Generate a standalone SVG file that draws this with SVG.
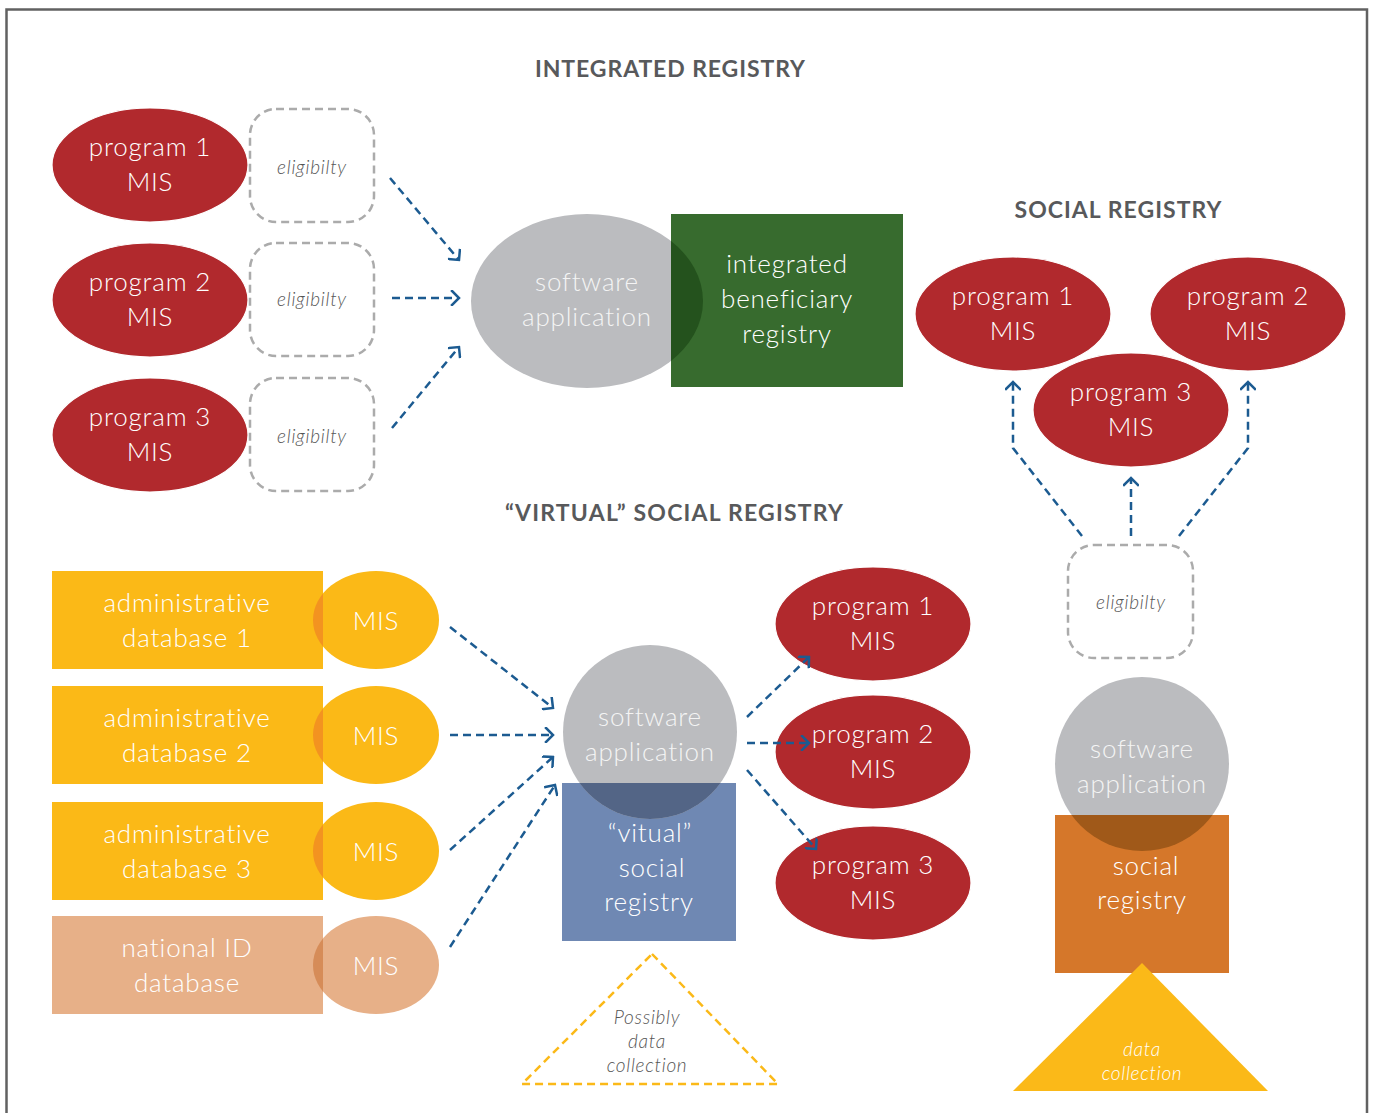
<svg xmlns="http://www.w3.org/2000/svg" width="1376" height="1113" viewBox="0 0 1376 1113">
  <style>
    .title { font-family: Lato, "Noto Sans", sans-serif; font-weight: 700; font-size: 23px; fill: #58595b; text-anchor: middle; }
    .lbl { font-family: Lato, "Noto Sans", sans-serif; font-weight: 300; font-size: 26px; letter-spacing: 0.8px; fill: #ffffff; text-anchor: middle; }
    .lbl-soft { font-family: Lato, "Noto Sans", sans-serif; font-weight: 300; font-size: 26px; letter-spacing: 0.8px; fill: #f4f4f4; text-anchor: middle; }
    .note { font-family: Lato, "Noto Sans", sans-serif; font-style: italic; font-weight: 300; font-size: 19px; letter-spacing: 0.7px; fill: #555555; text-anchor: middle; }
    .note-w { font-family: Lato, "Noto Sans", sans-serif; font-style: italic; font-weight: 300; font-size: 19px; letter-spacing: 0.7px; fill: #ffffff; text-anchor: middle; }
    .mis { fill: #b1292d; stroke: #ffffff; stroke-width: 1.2; }
    .app { fill: #bbbcbf; }
    .elig { fill: none; stroke: #ababab; stroke-width: 2.5; stroke-dasharray: 8 5; }
    .flow { fill: none; stroke: #1c5b91; stroke-width: 2.5; stroke-dasharray: 8 5; marker-end: url(#chev); }
    .admin { fill: #fbb917; }
    .admin-ov { fill: #f39320; }
    .natid { fill: #e7b088; }
    .natid-ov { fill: #d68c58; }
  </style>
  <defs>
    <marker id="chev" viewBox="0 0 12 16" refX="10" refY="8" markerWidth="12" markerHeight="16" markerUnits="userSpaceOnUse" orient="auto">
      <path d="M3,1 L10,8 L3,15" fill="none" stroke="#1c5b91" stroke-width="2.5" stroke-linecap="square"/>
    </marker>
    <clipPath id="clip-ibr"><rect x="671" y="214" width="232" height="173"/></clipPath>
    <clipPath id="clip-vsr"><rect x="562" y="783" width="174" height="158"/></clipPath>
    <clipPath id="clip-sr"><rect x="1055" y="815" width="174" height="158"/></clipPath>
    <clipPath id="clip-ad1"><rect x="52" y="571" width="271" height="98"/></clipPath>
    <clipPath id="clip-ad2"><rect x="52" y="686" width="271" height="98"/></clipPath>
    <clipPath id="clip-ad3"><rect x="52" y="802" width="271" height="98"/></clipPath>
    <clipPath id="clip-nid"><rect x="52" y="916" width="271" height="98"/></clipPath>
  </defs>

  <!-- outer frame (open at the bottom) -->
  <path d="M6.5,1113 V9.5 H1367 V1113" fill="none" stroke="#616161" stroke-width="2.5"/>

  <!-- section titles -->
  <text class="title" x="670" y="77" textLength="270" lengthAdjust="spacing">INTEGRATED REGISTRY</text>
  <text class="title" x="1118" y="218" textLength="207" lengthAdjust="spacing">SOCIAL REGISTRY</text>
  <text class="title" x="674" y="521" textLength="338" lengthAdjust="spacing">“VIRTUAL” SOCIAL REGISTRY</text>

  <!-- ===== integrated registry ===== -->
  <g id="ir-program1">
    <ellipse class="mis" cx="150" cy="165" rx="98" ry="57"/>
    <text class="lbl" x="150" y="156">program 1</text>
    <text class="lbl" x="150" y="191">MIS</text>
  </g>
  <g id="ir-program2">
    <ellipse class="mis" cx="150" cy="300" rx="98" ry="57"/>
    <text class="lbl" x="150" y="291">program 2</text>
    <text class="lbl" x="150" y="326">MIS</text>
  </g>
  <g id="ir-program3">
    <ellipse class="mis" cx="150" cy="435" rx="98" ry="57"/>
    <text class="lbl" x="150" y="426">program 3</text>
    <text class="lbl" x="150" y="461">MIS</text>
  </g>
  <g id="ir-elig1">
    <rect class="elig" x="250" y="109" width="124" height="113" rx="26"/>
    <text class="note" x="312" y="174">eligibilty</text>
  </g>
  <g id="ir-elig2">
    <rect class="elig" x="250" y="243" width="124" height="113" rx="26"/>
    <text class="note" x="312" y="306">eligibilty</text>
  </g>
  <g id="ir-elig3">
    <rect class="elig" x="250" y="378" width="124" height="113" rx="26"/>
    <text class="note" x="312" y="443">eligibilty</text>
  </g>
  <g id="ir-software">
    <ellipse class="app" cx="587" cy="301" rx="116" ry="87"/>
    <text class="lbl-soft" x="587" y="291">software</text>
    <text class="lbl-soft" x="587" y="326">application</text>
  </g>
  <g id="ir-beneficiary-registry">
    <rect x="671" y="214" width="232" height="173" fill="#376b2e"/>
    <ellipse cx="587" cy="301" rx="116" ry="87" fill="#24521d" clip-path="url(#clip-ibr)"/>
    <text class="lbl" x="787" y="273">integrated</text>
    <text class="lbl" x="787" y="308">beneficiary</text>
    <text class="lbl" x="787" y="343">registry</text>
  </g>

  <!-- ===== social registry ===== -->
  <g id="sr-program1">
    <ellipse class="mis" cx="1013" cy="314" rx="98" ry="57"/>
    <text class="lbl" x="1013" y="305">program 1</text>
    <text class="lbl" x="1013" y="340">MIS</text>
  </g>
  <g id="sr-program2">
    <ellipse class="mis" cx="1248" cy="314" rx="98" ry="57"/>
    <text class="lbl" x="1248" y="305">program 2</text>
    <text class="lbl" x="1248" y="340">MIS</text>
  </g>
  <g id="sr-program3">
    <ellipse class="mis" cx="1131" cy="410" rx="98" ry="57"/>
    <text class="lbl" x="1131" y="401">program 3</text>
    <text class="lbl" x="1131" y="436">MIS</text>
  </g>
  <g id="sr-elig">
    <rect class="elig" x="1068" y="545" width="125" height="113" rx="26"/>
    <text class="note" x="1131" y="609">eligibilty</text>
  </g>
  <g id="sr-software">
    <circle class="app" cx="1142" cy="764" r="87"/>
    <text class="lbl-soft" x="1142" y="758">software</text>
    <text class="lbl-soft" x="1142" y="793">application</text>
  </g>
  <g id="sr-social-registry">
    <rect x="1055" y="815" width="174" height="158" fill="#d5772a"/>
    <circle cx="1142" cy="764" r="87" fill="#a05919" clip-path="url(#clip-sr)"/>
    <text class="lbl" x="1146" y="875">social</text>
    <text class="lbl" x="1142" y="909">registry</text>
  </g>
  <g id="sr-data-collection">
    <polygon points="1142,963 1268,1091 1013,1091" fill="#fbb918"/>
    <text class="note-w" x="1142" y="1056">data</text>
    <text class="note-w" x="1142" y="1080">collection</text>
  </g>

  <!-- ===== virtual social registry ===== -->
  <g id="vr-admin1">
    <rect class="admin" x="52" y="571" width="271" height="98"/>
    <ellipse class="admin" cx="376" cy="620" rx="63" ry="49"/>
    <ellipse class="admin-ov" cx="376" cy="620" rx="63" ry="49" clip-path="url(#clip-ad1)"/>
    <text class="lbl" x="187" y="612">administrative</text>
    <text class="lbl" x="187" y="647">database 1</text>
    <text class="lbl" x="376" y="630">MIS</text>
  </g>
  <g id="vr-admin2">
    <rect class="admin" x="52" y="686" width="271" height="98"/>
    <ellipse class="admin" cx="376" cy="735" rx="63" ry="49"/>
    <ellipse class="admin-ov" cx="376" cy="735" rx="63" ry="49" clip-path="url(#clip-ad2)"/>
    <text class="lbl" x="187" y="727">administrative</text>
    <text class="lbl" x="187" y="762">database 2</text>
    <text class="lbl" x="376" y="745">MIS</text>
  </g>
  <g id="vr-admin3">
    <rect class="admin" x="52" y="802" width="271" height="98"/>
    <ellipse class="admin" cx="376" cy="851" rx="63" ry="49"/>
    <ellipse class="admin-ov" cx="376" cy="851" rx="63" ry="49" clip-path="url(#clip-ad3)"/>
    <text class="lbl" x="187" y="843">administrative</text>
    <text class="lbl" x="187" y="878">database 3</text>
    <text class="lbl" x="376" y="861">MIS</text>
  </g>
  <g id="vr-national-id">
    <rect class="natid" x="52" y="916" width="271" height="98"/>
    <ellipse class="natid" cx="376" cy="965" rx="63" ry="49"/>
    <ellipse class="natid-ov" cx="376" cy="965" rx="63" ry="49" clip-path="url(#clip-nid)"/>
    <text class="lbl" x="187" y="957">national ID</text>
    <text class="lbl" x="187" y="992">database</text>
    <text class="lbl" x="376" y="975">MIS</text>
  </g>
  <g id="vr-virtual-registry">
    <rect x="562" y="783" width="174" height="158" fill="#6f88b3"/>
  </g>
  <g id="vr-software">
    <circle class="app" cx="650" cy="732" r="87"/>
    <circle cx="650" cy="732" r="87" fill="#536586" clip-path="url(#clip-vsr)"/>
    <text class="lbl-soft" x="650" y="726">software</text>
    <text class="lbl-soft" x="650" y="761">application</text>
    <text class="lbl" x="650" y="842">“vitual”</text>
    <text class="lbl" x="652" y="877">social</text>
    <text class="lbl" x="649" y="911">registry</text>
  </g>
  <g id="vr-program1">
    <ellipse class="mis" cx="873" cy="624" rx="98" ry="57"/>
    <text class="lbl" x="873" y="615">program 1</text>
    <text class="lbl" x="873" y="650">MIS</text>
  </g>
  <g id="vr-program2">
    <ellipse class="mis" cx="873" cy="752" rx="98" ry="57"/>
    <text class="lbl" x="873" y="743">program 2</text>
    <text class="lbl" x="873" y="778">MIS</text>
  </g>
  <g id="vr-program3">
    <ellipse class="mis" cx="873" cy="883" rx="98" ry="57"/>
    <text class="lbl" x="873" y="874">program 3</text>
    <text class="lbl" x="873" y="909">MIS</text>
  </g>
  <g id="vr-data-collection">
    <polygon points="652,954 778,1084 522,1084" fill="none" stroke="#fbb918" stroke-width="2.5" stroke-dasharray="8 5"/>
    <text class="note" x="647" y="1024">Possibly</text>
    <text class="note" x="647" y="1048">data</text>
    <text class="note" x="647" y="1072">collection</text>
  </g>

  <!-- connectors -->
  <g id="connectors">
    <path class="flow" d="M390,178 L459,260"/>
    <path class="flow" d="M392,298 L459,298"/>
    <path class="flow" d="M392,428 L459,347"/>

    <path class="flow" d="M1082,536 L1013,448 L1013,382"/>
    <path class="flow" d="M1131,536 L1131,478"/>
    <path class="flow" d="M1179,536 L1248,448 L1248,382"/>

    <path class="flow" d="M450,627 L553,708"/>
    <path class="flow" d="M450,735 L553,735"/>
    <path class="flow" d="M450,850 L553,757"/>
    <path class="flow" d="M450,947 L555,785"/>

    <path class="flow" d="M747,717 L809,657"/>
    <path class="flow" d="M747,743 L809,743"/>
    <path class="flow" d="M747,770 L816,849"/>
  </g>
</svg>
